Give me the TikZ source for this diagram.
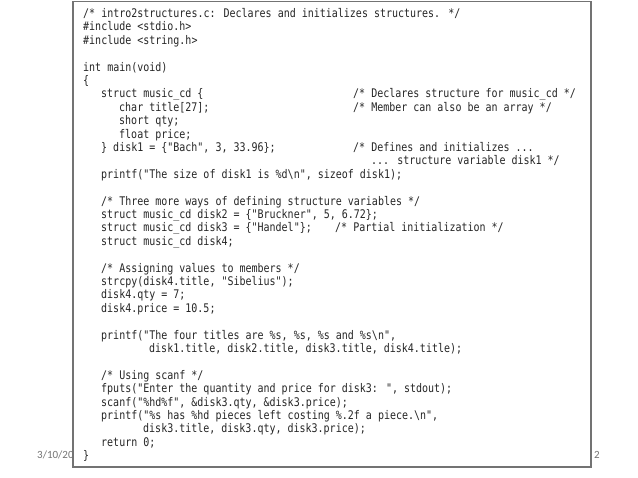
\documentclass[tikz,border=0pt]{standalone}
\usepackage{fontspec}
\setmainfont{Carlito}
\newfontfamily\codefont[FakeStretch=0.84]{DejaVu Sans Mono}
\begin{document}
\begin{tikzpicture}[x=1pt,y=1pt,
  code/.style={anchor=base west,inner sep=0pt,font=\codefont\fontsize{11.9}{12}\selectfont,text=black!85},
  foot/.style={anchor=base west,inner sep=0pt,font=\fontsize{11}{12}\selectfont,text=black!55}]
\useasboundingbox (0,0) rectangle (638,478);
\newcommand\cl[3]{\node[code] at ({83+6*#1},{478-17.5-13.4*#2}) {#3};}
\node[foot] (date) at (37,{478-459}) {3/10/2020};
\node[foot] (pg) at (594,{478-459}) {2};
\draw[fill=white,draw=black!55,line width=1.5pt] (73,{478-467}) rectangle (591,478-1.5);
\cl{0}{0}{/* intro2structures.c: Declares and initializes structures. */}
\cl{0}{1}{\#include <stdio.h>}
\cl{0}{2}{\#include <string.h>}
\cl{0}{4}{int main(void)}
\cl{0}{5}{\{}
\cl{3}{6}{struct music\_cd \{}
\cl{45}{6}{/* Declares structure for music\_cd */}
\cl{6}{7}{char title[27];}
\cl{45}{7}{/* Member can also be an array */}
\cl{6}{8}{short qty;}
\cl{6}{9}{float price;}
\cl{3}{10}{\} disk1 = \{"Bach", 3, 33.96\};}
\cl{45}{10}{/* Defines and initializes ...}
\cl{48}{11}{... structure variable disk1 */}
\cl{3}{12}{printf("The size of disk1 is \%d\textbackslash n", sizeof disk1);}
\cl{3}{14}{/* Three more ways of defining structure variables */}
\cl{3}{15}{struct music\_cd disk2 = \{"Bruckner", 5, 6.72\};}
\cl{3}{16}{struct music\_cd disk3 = \{"Handel"\};}
\cl{42}{16}{/* Partial initialization */}
\cl{3}{17}{struct music\_cd disk4;}
\cl{3}{19}{/* Assigning values to members */}
\cl{3}{20}{strcpy(disk4.title, "Sibelius");}
\cl{3}{21}{disk4.qty = 7;}
\cl{3}{22}{disk4.price = 10.5;}
\cl{3}{24}{printf("The four titles are \%s, \%s, \%s and \%s\textbackslash n",}
\cl{11}{25}{disk1.title, disk2.title, disk3.title, disk4.title);}
\cl{3}{27}{/* Using scanf */}
\cl{3}{28}{fputs("Enter the quantity and price for disk3: ", stdout);}
\cl{3}{29}{scanf("\%hd\%f", \&disk3.qty, \&disk3.price);}
\cl{3}{30}{printf("\%s has \%hd pieces left costing \%.2f a piece.\textbackslash n",}
\cl{10}{31}{disk3.title, disk3.qty, disk3.price);}
\cl{3}{32}{return 0;}
\cl{0}{33}{\}}
\end{tikzpicture}
\end{document}
